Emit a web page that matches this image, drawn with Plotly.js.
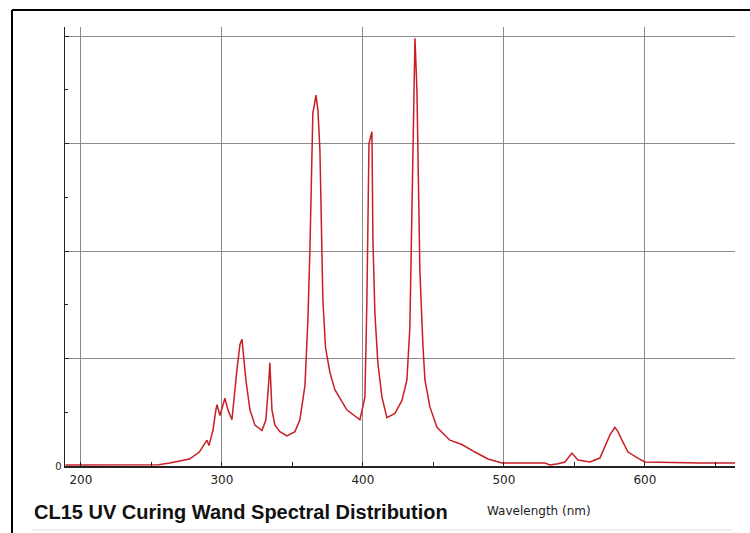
<!DOCTYPE html>
<html>
<head>
<meta charset="utf-8">
<script src="https://cdn.plot.ly/plotly-3.0.1.min.js"></script>
<style>
html,body{margin:0;padding:0;background:#fff;}
#chart{width:750px;height:533px;}
</style>
</head>
<body>
<div id="chart"></div>
<script>
// Wavelength (nm) and relative intensity
var wavelength = [189, 200, 215, 230, 245, 255, 263, 270, 277, 284, 289.4, 290.8, 293.6, 295.7, 296.5, 298.6, 302.1, 304.3, 307.1, 310.6, 312.8, 314.2, 317.0, 319.9, 323.4, 328.4, 331.2, 333.3, 334.0, 335.5, 337.6, 341.1, 346.1, 351.8, 355.3, 358.9, 360.3, 361.0, 362.4, 363.8, 364.5, 365.2, 366.7, 368.1, 369.5, 371.6, 373.5, 376.6, 380.1, 388.7, 397.9, 401.4, 402.8, 404.3, 406.4, 407.1, 408.5, 410.6, 413.5, 417.0, 422.7, 427.7, 431.2, 433.3, 435.5, 436.9, 438.3, 439.0, 440.4, 442.6, 444.0, 447.5, 452.5, 461.7, 470.2, 479.4, 488.7, 498.6, 529.1, 532.6, 538.3, 543.3, 548.2, 552.5, 561.0, 568.1, 571.6, 575.2, 578.7, 580.9, 583.7, 588.0, 595.0, 600.0, 639.0, 664];
var intensity = [0.01, 0.01, 0.012, 0.01, 0.015, 0.012, 0.028, 0.047, 0.065, 0.13, 0.24, 0.19, 0.33, 0.52, 0.57, 0.47, 0.63, 0.52, 0.43, 0.89, 1.13, 1.18, 0.80, 0.52, 0.38, 0.33, 0.43, 0.80, 0.96, 0.52, 0.38, 0.32, 0.28, 0.32, 0.43, 0.75, 1.08, 1.36, 2.01, 2.94, 3.29, 3.33, 3.45, 3.31, 2.94, 1.54, 1.10, 0.87, 0.71, 0.52, 0.43, 0.64, 1.52, 3.00, 3.11, 2.10, 1.42, 0.96, 0.64, 0.45, 0.49, 0.61, 0.80, 1.29, 2.85, 3.98, 3.50, 2.85, 1.82, 1.11, 0.80, 0.55, 0.36, 0.24, 0.20, 0.13, 0.065, 0.028, 0.028, 0.01, 0.02, 0.037, 0.12, 0.056, 0.037, 0.074, 0.18, 0.29, 0.36, 0.32, 0.24, 0.13, 0.074, 0.037, 0.028, 0.028];

var xTickVals = [200, 300, 400, 500, 600];
var xTickText = ['200', '300', '400', '500', '600'];
var yTickVals = [0, 1, 2, 3, 4];
var yTickText = ['0', '', '', '', ''];

var titleText = 'CL15 UV Curing Wand Spectral Distribution';
var xLabelText = 'Wavelength (nm)';

var trace = {
  x: wavelength,
  y: intensity,
  type: 'scatter',
  mode: 'lines',
  line: {color: 'rgb(200,30,36)', width: 1.5},
  hoverinfo: 'x+y'
};

var layout = {
  width: 750,
  height: 533,
  margin: {l: 65, r: 15, t: 27, b: 67},
  paper_bgcolor: '#ffffff',
  plot_bgcolor: '#ffffff',
  showlegend: false,
  font: {family: 'DejaVu Sans, sans-serif', color: '#222'},
  xaxis: {
    range: [188.7, 663.9],
    tickmode: 'array',
    tickvals: xTickVals,
    ticktext: xTickText,
    showgrid: true,
    gridcolor: '#8a8a8a',
    gridwidth: 1,
    zeroline: false,
    showline: true,
    linecolor: '#222',
    linewidth: 2,
    ticks: 'inside',
    ticklen: 4,
    tickcolor: '#222',
    ticklabelstandoff: 2,
    tickfont: {family: 'DejaVu Sans, sans-serif', size: 12, color: '#222'},
    minor: {dtick: 50, tick0: 200, ticks: 'inside', ticklen: 4, tickcolor: '#222', showgrid: false},
    fixedrange: true
  },
  yaxis: {
    range: [0, 4.084],
    tickmode: 'array',
    tickvals: yTickVals,
    ticktext: yTickText,
    showgrid: true,
    gridcolor: '#8a8a8a',
    gridwidth: 1,
    zeroline: false,
    showline: true,
    linecolor: '#222',
    linewidth: 1.5,
    ticks: 'inside',
    ticklen: 4,
    tickcolor: '#222',
    tickfont: {family: 'DejaVu Sans, sans-serif', size: 10, color: '#222'},
    minor: {dtick: 0.5, tick0: 0, ticks: 'inside', ticklen: 3, tickcolor: '#222', showgrid: false},
    fixedrange: true
  },
  annotations: [
    {
      text: '<b>' + titleText + '</b>',
      xref: 'paper', yref: 'paper',
      x: -0.0493, y: -0.1048,
      xanchor: 'left', yanchor: 'middle',
      showarrow: false,
      font: {family: 'Liberation Sans, Arial, sans-serif', size: 20, color: '#111'}
    },
    {
      text: xLabelText,
      xref: 'paper', yref: 'paper',
      x: 0.6269, y: -0.1025,
      xanchor: 'left', yanchor: 'middle',
      showarrow: false,
      font: {family: 'DejaVu Sans, sans-serif', size: 12, color: '#222'}
    }
  ],
  shapes: [
    {type: 'line', xref: 'paper', yref: 'paper', x0: -0.0791, x1: -0.0791, y0: -0.25, y1: 1.0387, line: {color: '#000', width: 2}},
    {type: 'line', xref: 'paper', yref: 'paper', x0: -0.0791, x1: 1.05, y0: 1.0387, y1: 1.0387, line: {color: '#000', width: 2}},
    {type: 'line', xref: 'paper', yref: 'paper', x0: -0.0493, x1: 0.9955, y0: -0.1458, y1: -0.1458, line: {color: '#e2e2e2', width: 1}}
  ]
};

Plotly.newPlot('chart', [trace], layout, {displayModeBar: false, staticPlot: true});
</script>
</body>
</html>
